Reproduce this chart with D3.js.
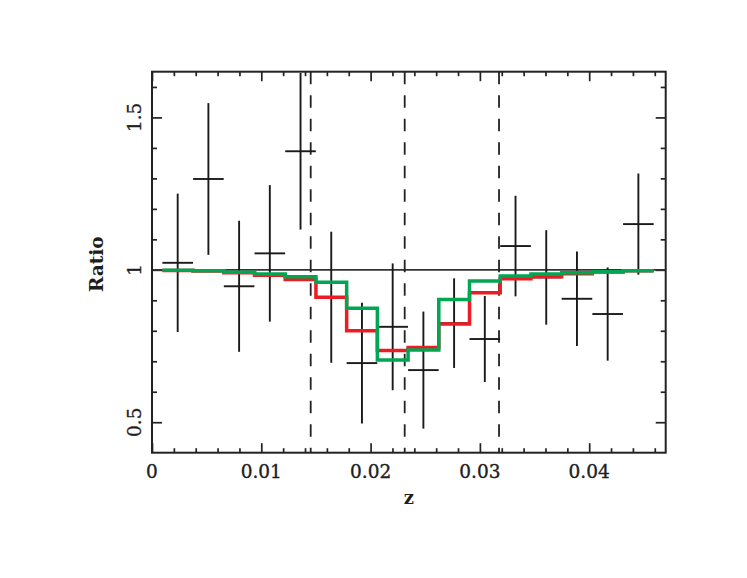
<!DOCTYPE html>
<html>
<head>
<meta charset="utf-8">
<script src="https://cdn.jsdelivr.net/npm/d3@7"></script>
<style>
  html, body { margin: 0; padding: 0; background: #fff; }
  svg { display: block; }
  text { font-family: "DejaVu Serif", serif; fill: #1e1e1e; }
</style>
</head>
<body>
<svg id="chart" width="747" height="578"></svg>
<script>
// ---- data ----
const zCenters = [0.00235, 0.00516, 0.00797, 0.01078, 0.01359, 0.0164, 0.01921, 0.02202,
                  0.02483, 0.02764, 0.03045, 0.03326, 0.03607, 0.03888, 0.04169, 0.0445];
const binHalf = 0.0014;
const ratio = [1.023, 1.298, 0.946, 1.054, 1.389, 0.910, 0.694, 0.813,
               0.671, 0.825, 0.773, 1.078, 0.975, 0.905, 0.855, 1.150];
const ratioErr = [0.227, 0.249, 0.215, 0.224, 0.257, 0.215, 0.198, 0.208,
                  0.192, 0.147, 0.141, 0.165, 0.155, 0.155, 0.153, 0.166];
const redModel = [0.998, 0.996, 0.990, 0.982, 0.968, 0.910, 0.800, 0.735,
                  0.745, 0.822, 0.925, 0.971, 0.977, 0.987, 0.993, 0.997];
const greenModel = [0.999, 0.997, 0.992, 0.986, 0.977, 0.959, 0.874, 0.704,
                    0.737, 0.903, 0.963, 0.980, 0.986, 0.990, 0.994, 0.997];
const dashedZ = [0.01452, 0.02312, 0.03175];
const xMajorTicks = [0, 0.01, 0.02, 0.03, 0.04];
const xTickLabels = ["0", "0.01", "0.02", "0.03", "0.04"];
const yMajorTicks = [0.5, 1, 1.5];
const yTickLabels = ["0.5", "1", "1.5"];

// ---- layout ----
const pL = 152, pR = 665.7, pT = 71.7, pB = 452.7;
const svg = d3.select("#chart");
const x = d3.scaleLinear().domain([0, 0.047]).range([pL, pR]);
const y = d3.scaleLinear().domain([0.4, 1.65]).range([pB, pT]);

const xMinor = d3.range(0, 0.0471, 0.002).filter(v => !xMajorTicks.some(m => Math.abs(m - v) < 1e-9));
const yMinor = d3.range(0.4, 1.651, 0.1).filter(v => !yMajorTicks.some(m => Math.abs(m - v) < 1e-9) && v > 0.41 && v < 1.64);

function tickAxis(gen, scale, vals, size, transform) {
  const g = svg.append("g").attr("transform", transform)
    .call(gen(scale).tickValues(vals).tickSize(-size).tickFormat(""));
  g.select(".domain").remove();
  g.selectAll("line").attr("stroke", "#222").attr("stroke-width", 1.7);
}
// ticks on all four sides, pointing inward
tickAxis(d3.axisBottom, x, xMinor, 4.5, `translate(0,${pB})`);
tickAxis(d3.axisBottom, x, xMajorTicks, 9.5, `translate(0,${pB})`);
tickAxis(d3.axisTop, x, xMinor, 4.5, `translate(0,${pT})`);
tickAxis(d3.axisTop, x, xMajorTicks, 9.5, `translate(0,${pT})`);
tickAxis(d3.axisLeft, y, yMinor, 5, `translate(${pL},0)`);
tickAxis(d3.axisLeft, y, yMajorTicks, 10, `translate(${pL},0)`);
tickAxis(d3.axisRight, y, yMinor, 5, `translate(${pR},0)`);
tickAxis(d3.axisRight, y, yMajorTicks, 10, `translate(${pR},0)`);

// tick labels
svg.append("g").selectAll("text").data(xMajorTicks).join("text")
  .attr("x", d => x(d)).attr("y", 478)
  .attr("text-anchor", "middle").attr("font-size", 18.5)
  .attr("stroke", "#1e1e1e").attr("stroke-width", 0.35)
  .text((d, i) => xTickLabels[i]);
svg.append("g").selectAll("text").data(yMajorTicks).join("text")
  .attr("transform", d => `translate(140.5,${y(d)}) rotate(-90)`)
  .attr("text-anchor", "middle").attr("font-size", 18.5)
  .attr("stroke", "#1e1e1e").attr("stroke-width", 0.35)
  .text((d, i) => yTickLabels[i]);

// axis titles
svg.append("text").attr("x", (pL + pR) / 2).attr("y", 504)
  .attr("text-anchor", "middle").attr("font-size", 18).attr("font-weight", "bold").text("z");
svg.append("text").attr("transform", `translate(103,${(pT + pB) / 2 + 2}) rotate(-90)`)
  .attr("text-anchor", "middle").attr("font-size", 18.5).attr("font-weight", "bold").text("Ratio");

// reference line at 1
svg.append("line").attr("x1", pL).attr("x2", pR).attr("y1", y(1)).attr("y2", y(1))
  .attr("stroke", "#333").attr("stroke-width", 1.7);

// dashed lines
svg.append("g").selectAll("line").data(dashedZ).join("line")
  .attr("x1", d => x(d)).attr("x2", d => x(d)).attr("y1", pT).attr("y2", pB)
  .attr("stroke", "#222").attr("stroke-width", 1.8).attr("stroke-dasharray", "12.5,11");

// error bars
const eb = svg.append("g").attr("stroke", "#1a1a1a").attr("stroke-width", 1.9);
zCenters.forEach((z, i) => {
  eb.append("line").attr("x1", x(z)).attr("x2", x(z))
    .attr("y1", y(ratio[i] - ratioErr[i])).attr("y2", y(ratio[i] + ratioErr[i]));
  eb.append("line").attr("x1", x(z - binHalf)).attr("x2", x(z + binHalf))
    .attr("y1", y(ratio[i])).attr("y2", y(ratio[i]));
});

// model histograms
function stepPts(vals) {
  const pts = zCenters.map((z, i) => [z - binHalf, vals[i]]);
  pts.push([zCenters[zCenters.length - 1] + binHalf, vals[vals.length - 1]]);
  return pts;
}
const line = d3.line().x(d => x(d[0])).y(d => y(d[1])).curve(d3.curveStepAfter);
svg.append("path").attr("d", line(stepPts(redModel)))
  .attr("fill", "none").attr("stroke", "#ec1c24").attr("stroke-width", 3.5);
svg.append("path").attr("d", line(stepPts(greenModel)))
  .attr("fill", "none").attr("stroke", "#00a651").attr("stroke-width", 3.5);

// frame
svg.append("rect").attr("x", pL).attr("y", pT).attr("width", pR - pL).attr("height", pB - pT)
  .attr("fill", "none").attr("stroke", "#222").attr("stroke-width", 2);
</script>
</body>
</html>
